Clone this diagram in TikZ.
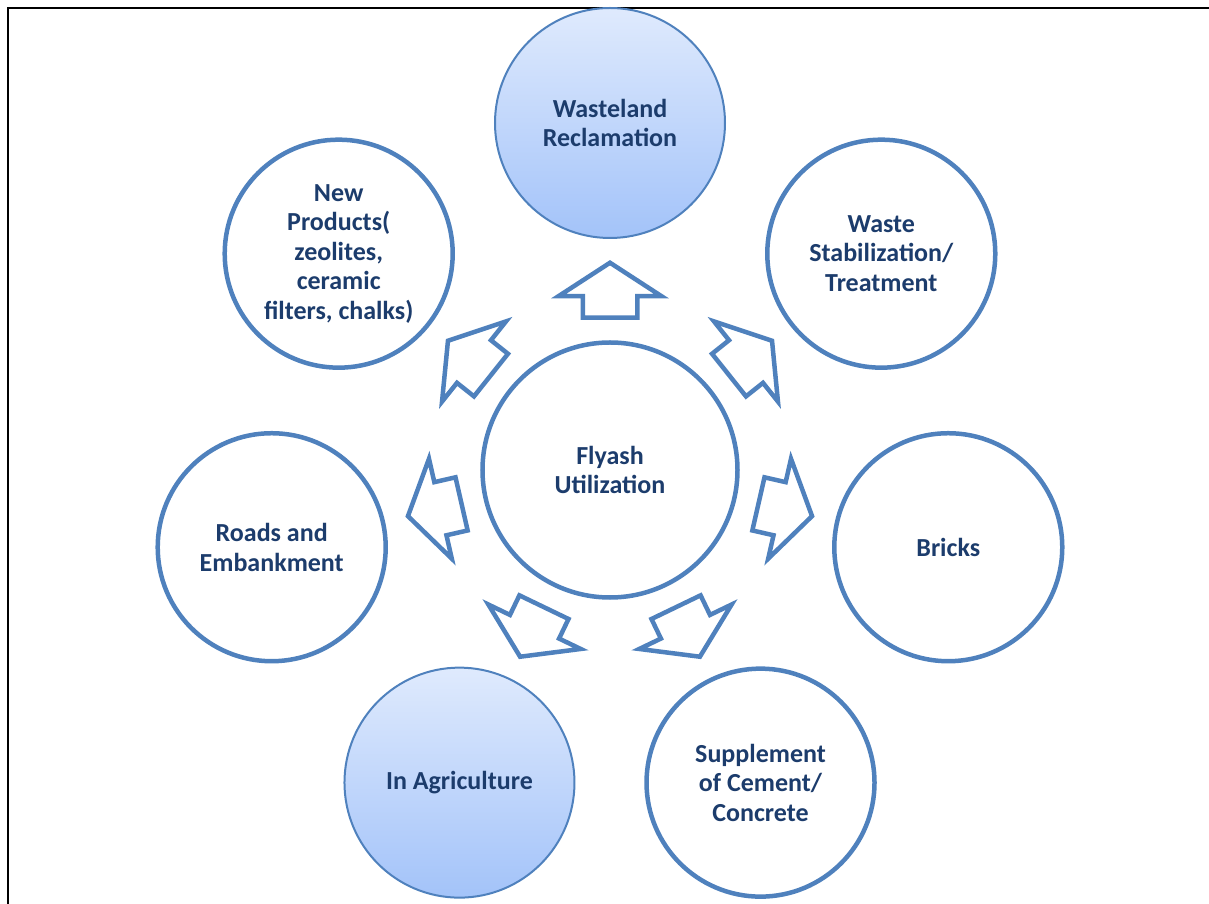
\documentclass[tikz,border=0pt]{standalone}
\usepackage{fontspec}
\setmainfont{Carlito}
\usepackage{xcolor}
\usepackage{tikz}
\usetikzlibrary{shapes.arrows}
\definecolor{ringblue}{RGB}{79,129,189}
\definecolor{labelblue}{RGB}{28,60,108}
\definecolor{shadetop}{RGB}{223,234,253}
\definecolor{shadebot}{RGB}{163,195,249}

\begin{document}
\begin{tikzpicture}[
  x=1pt, y=1pt,
  font=\bfseries\fontsize{26}{29.5}\selectfont,
  appl/.style={circle, draw=ringblue, line width=4.5pt, fill=white, minimum size=228pt, inner sep=0pt, align=center, text=labelblue},
  hub/.style={appl, minimum size=255pt},
  applshade/.style={appl, line width=2pt, minimum size=230pt, top color=shadetop, bottom color=shadebot},
  blockarr/.style={single arrow, draw=ringblue, line width=4.5pt, fill=white, inner xsep=0pt, inner ysep=25pt, minimum height=55pt, single arrow head extend=24pt, single arrow tip angle=114, anchor=tail}
]
  \useasboundingbox (-610,-434) rectangle (599,470);
  % page frame, cut off at the right and bottom
  \draw[line width=2.5pt] (-602,-434) -- (-602,462) -- (599,462);

  \node[hub] (hub) at (0,0) {Flyash\\Utilization};

  \node[applshade] (wasteland) at (90:347) {Wasteland\\Reclamation};
  \node[appl] (waste) at (38.57:347) {Waste\\Stabilization/\\Treatment};
  \node[appl] (bricks) at (-12.86:347) {Bricks};
  \node[appl] (cement) at (-64.29:347) {Supplement\\of Cement/\\Concrete};
  \node[applshade] (agri) at (-115.71:347) {In Agriculture};
  \node[appl] (roads) at (-167.14:347) {Roads and\\Embankment};
  \node[appl] (products) at (141.43:347) {New\\Products(\\zeolites,\\ceramic\\filters, chalks)};

  % block arrows from the hub outwards
  \node[blockarr, rotate=90] (toWasteland) at (90:150) {};
  \node[blockarr, rotate=38.57] (toWaste) at (38.57:150) {};
  \node[blockarr, rotate=-12.86] (toBricks) at (-12.86:150) {};
  \node[blockarr, rotate=-64.29] (toCement) at (-64.29:150) {};
  \node[blockarr, rotate=-115.71] (toAgri) at (-115.71:150) {};
  \node[blockarr, rotate=-167.14] (toRoads) at (-167.14:150) {};
  \node[blockarr, rotate=141.43] (toProducts) at (141.43:150) {};
\end{tikzpicture}
\end{document}
